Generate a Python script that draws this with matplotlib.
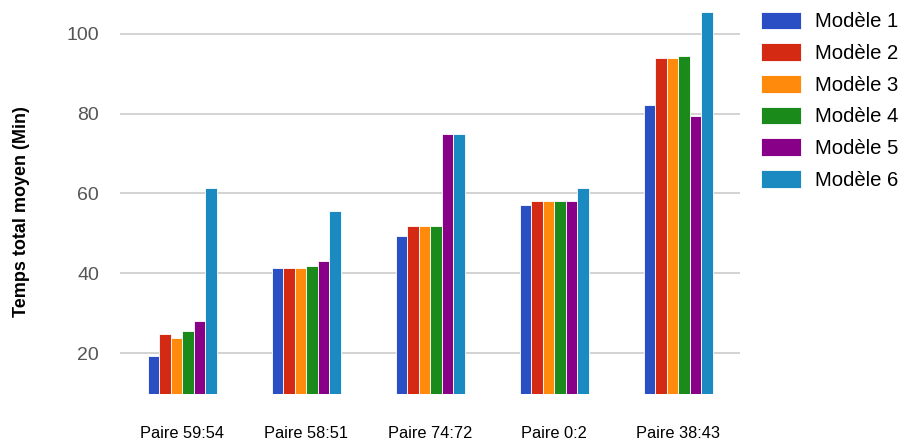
import numpy as np
import matplotlib
matplotlib.use("Agg")
import matplotlib.pyplot as plt

plt.rcParams["font.family"] = ["Liberation Sans", "DejaVu Sans"]

pairs = ["Paire 59:54", "Paire 58:51", "Paire 74:72", "Paire 0:2", "Paire 38:43"]
models = ["Modèle 1", "Modèle 2", "Modèle 3", "Modèle 4", "Modèle 5", "Modèle 6"]
m1 = [19.3, 41.4, 49.3, 57.2, 82.2]
m2 = [24.8, 41.4, 51.9, 58.1, 94.0]
m3 = [23.8, 41.4, 51.9, 58.1, 94.0]
m4 = [25.6, 41.8, 51.9, 58.1, 94.4]
m5 = [28.1, 43.1, 74.9, 58.1, 79.4]
m6 = [61.4, 55.5, 74.9, 61.3, 105.4]
series = [m1, m2, m3, m4, m5, m6]
colors = ["#2a4ec4", "#d42a14", "#ff8a0c", "#1a8a1a", "#880088", "#1a8ac0"]

base = 9.6
fig = plt.figure(figsize=(9.06, 4.46), dpi=100)
ax = fig.add_axes([0.1325, 0.1155, 0.6843, 0.862])

x = np.arange(len(pairs))
w = 0.0927
for i, (vals, c) in enumerate(zip(series, colors)):
    pos = x + (i - 2.5) * w
    ax.bar(pos, np.array(vals) - base, bottom=base, width=w, color=c,
           edgecolor="white", linewidth=0.6, label=models[i], zorder=3)

ax.set_xlim(-0.5, 4.5)
ax.set_ylim(base, 106)
ax.set_yticks([20, 40, 60, 80, 100])
ax.grid(axis="y", color="#cccccc", linewidth=1.2, zorder=0)
for s in ax.spines.values():
    s.set_visible(False)
ax.tick_params(axis="y", length=0, pad=15, labelsize=14, labelcolor="#555555")
ax.tick_params(axis="x", length=0, pad=23, labelsize=11.8)
ax.set_xticks(x)
ax.set_xticklabels(pairs)
ax.set_ylabel("Temps total moyen (Min)", fontsize=13, fontweight="bold")
ax.yaxis.set_label_coords(-0.145, 0.475)

fig.legend(loc="upper left", bbox_to_anchor=(0.840, 0.974), frameon=False,
           fontsize=14.6, handlelength=1.95, handleheight=0.98, borderpad=0,
           borderaxespad=0, labelspacing=0.58, handletextpad=0.72)

fig.savefig("out.png", dpi=100)
